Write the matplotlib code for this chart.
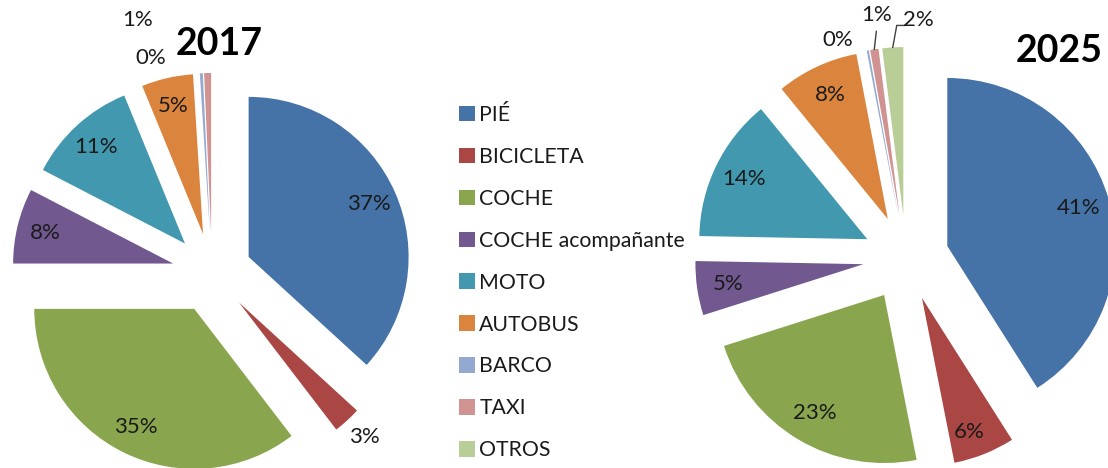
import numpy as np
import matplotlib
matplotlib.use("Agg")
import matplotlib.pyplot as plt

# data (percent of trips)
modos = ["PIÉ", "BICICLETA", "COCHE", "COCHE acompañante", "MOTO",
         "AUTOBUS", "BARCO", "TAXI", "OTROS"]
vals_2017 = [36.8, 2.8, 35.4, 7.6, 11.2, 5.2, 0.3, 0.7, 0.0]
vals_2025 = [41.0, 5.9, 23.2, 5.2, 13.8, 7.9, 0.2, 0.8, 2.0]
colores = ["#4572A7", "#AA4643", "#89A54E", "#71588F", "#4198AF",
           "#DB843D", "#93A9CF", "#D19392", "#B9CD96"]

plt.rcParams['font.family'] = ['Lato', 'DejaVu Sans']

fig = plt.figure(figsize=(11.08, 4.68), dpi=100)
ax = fig.add_axes([0, 0, 1, 1])


def dibuja_pie(vals, centro, radio, expl, especiales):
    # explode is in data units here (axes are in pixels)
    wedges, _ = ax.pie(vals, colors=colores, startangle=90, counterclock=False,
                       explode=[expl] * len(vals), center=centro, radius=radio,
                       frame=True, wedgeprops=dict(linewidth=0))
    tot = sum(vals)
    acum = 0
    for i, v in enumerate(vals):
        mid = (acum + v / 2) / tot * 360  # clockwise from 12 o'clock
        acum += v
        if v == 0:
            continue
        ang, dist = mid, 1.07
        if i in especiales:
            ang, dist = especiales[i]
        a = np.radians(ang)
        x = centro[0] + dist * radio * np.sin(a)
        y = centro[1] + dist * radio * np.cos(a)
        ax.text(x, y, f"{round(v)}%", ha='center', va='center',
                fontsize=16, color='#1a1a1a')
    return wedges


# left pie 2017 -- small labels sit outside
w1 = dibuja_pie(vals_2017, (212, 195), 160, 40,
                {1: (137, 1.40), 6: (344, 1.40), 7: (343.7, 1.65)})

# right pie 2025
c2 = (906, 210)
r2 = 168
e2 = 43
dibuja_pie(vals_2025, c2, r2, e2,
           {1: (160, 1.10), 6: (342.7, 1.36), 7: (353, 1.46), 8: (3.0, 1.42)})

# leader lines for 1% and 2% (2025)
acum = np.cumsum([0] + vals_2025)
for i, (dx_end, dy_end, dx_h) in {7: (2, 18, 0), 8: (4, 22, 8)}.items():
    mid = np.radians((acum[i] + vals_2025[i] / 2) / acum[-1] * 360)
    x0 = c2[0] + (r2 + e2) * np.sin(mid)
    y0 = c2[1] + (r2 + e2) * np.cos(mid)
    xs = [x0, x0 + dx_end, x0 + dx_end + dx_h]
    ys = [y0, y0 + dy_end, y0 + dy_end]
    ax.plot(xs, ys, color='#404040', lw=1)

ax.text(219, 424, "2017", ha='center', va='center', fontsize=27,
        fontweight='bold', color='black')
ax.text(1059, 417, "2025", ha='center', va='center', fontsize=27,
        fontweight='bold', color='black')

ax.legend(w1, modos, loc='upper left', bbox_to_anchor=(440, 382),
          bbox_transform=ax.transData, frameon=False, fontsize=15.3,
          labelspacing=1.03, handlelength=0.75, handleheight=0.75,
          handletextpad=0.2, labelcolor='#1a1a1a')

ax.set_xlim(0, 1108)
ax.set_ylim(0, 468)
ax.set_aspect('equal')
ax.axis('off')

fig.savefig("out.png", dpi=100)
